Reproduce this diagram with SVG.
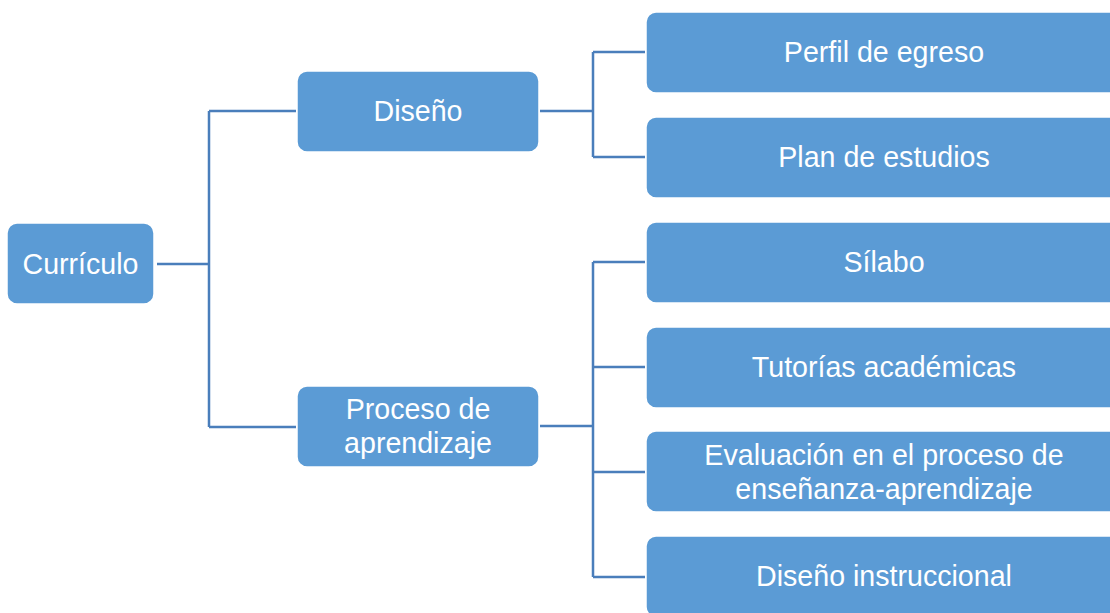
<svg xmlns="http://www.w3.org/2000/svg" width="1110" height="613" viewBox="0 0 1110 613">
<style>
.box{fill:#5B9BD5;stroke:#ffffff;stroke-width:1.5}
.lbl{fill:#ffffff;font-family:"Liberation Sans",Arial,sans-serif;font-size:28.6px;text-anchor:middle;dominant-baseline:central}
.con{fill:none;stroke:#4A7EBB;stroke-width:2.5}
</style>
<rect width="1110" height="613" fill="#ffffff"/>
<g id="connectors">
<path class="con" d="M157 264 H209 M209 111 V427 M209 111 H296 M209 427 H296"/>
<path class="con" d="M540 111 H593 M593 52 V157 M593 52 H645 M593 157 H645"/>
<path class="con" d="M540 426 H593 M593 262 V577 M593 262 H645 M593 367 H645 M593 472 H645 M593 577 H645"/>
</g>
<g id="n-curriculo"><rect class="box" x="7" y="223" width="147" height="81" rx="10"/><text class="lbl" x="80.5" y="264">Currículo</text></g>
<g id="n-diseno"><rect class="box" x="297" y="71" width="242" height="81" rx="10"/><text class="lbl" x="418" y="111">Diseño</text></g>
<g id="n-proceso"><rect class="box" x="297" y="386" width="242" height="81" rx="10"/><text class="lbl" x="418" y="409">Proceso de</text><text class="lbl" x="418" y="443">aprendizaje</text></g>
<g id="n-perfil"><rect class="box" x="646" y="12" width="476" height="81" rx="10"/><text class="lbl" x="884" y="52">Perfil de egreso</text></g>
<g id="n-plan"><rect class="box" x="646" y="117" width="476" height="81" rx="10"/><text class="lbl" x="884" y="157">Plan de estudios</text></g>
<g id="n-silabo"><rect class="box" x="646" y="222" width="476" height="81" rx="10"/><text class="lbl" x="884" y="262">Sílabo</text></g>
<g id="n-tutorias"><rect class="box" x="646" y="327" width="476" height="81" rx="10"/><text class="lbl" x="884" y="367">Tutorías académicas</text></g>
<g id="n-evaluacion"><rect class="box" x="646" y="431" width="476" height="81" rx="10"/><text class="lbl" x="884" y="455">Evaluación en el proceso de</text><text class="lbl" x="884" y="489">enseñanza-aprendizaje</text></g>
<g id="n-instruccional"><rect class="box" x="646" y="536" width="476" height="81" rx="10"/><text class="lbl" x="884" y="576">Diseño instruccional</text></g>
</svg>
